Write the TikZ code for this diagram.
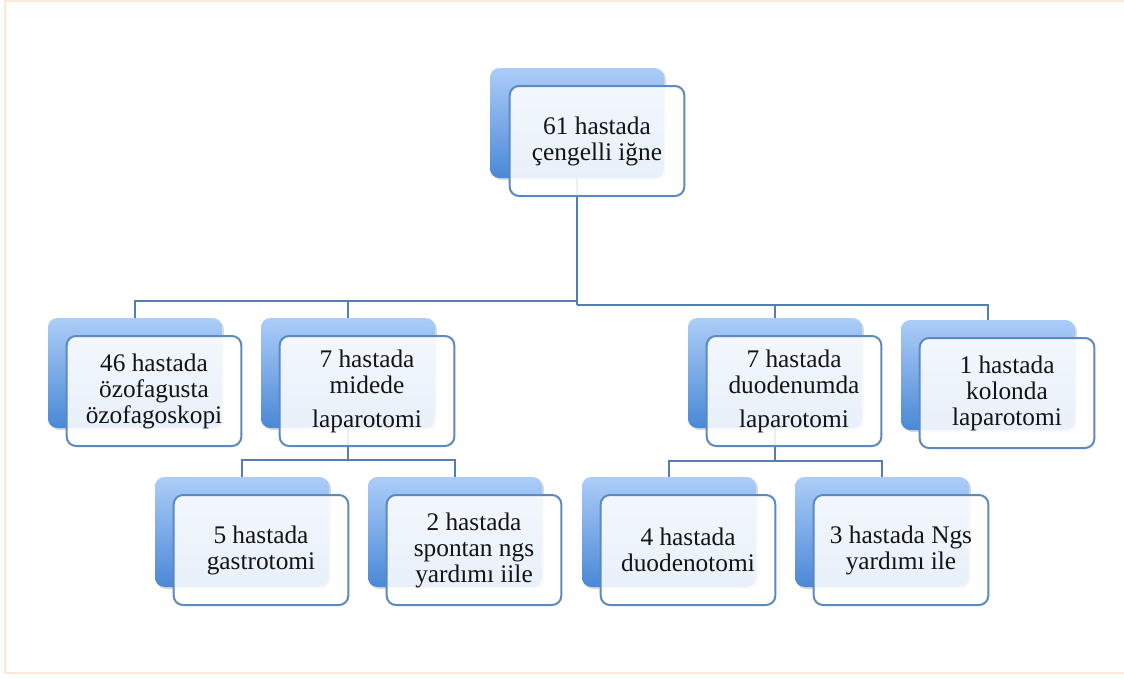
\documentclass[tikz,border=0pt]{standalone}
\usepackage{fontspec}
\setmainfont{Liberation Serif}
\usetikzlibrary{positioning,shadows}
\definecolor{backtop}{RGB}{172,205,248}
\definecolor{backbot}{RGB}{74,136,214}
\definecolor{edgeblue}{RGB}{92,138,192}
\definecolor{linkblue}{RGB}{84,126,178}
\definecolor{framepeach}{RGB}{252,232,214}
\tikzset{
  backbox/.style={rounded corners=7pt, minimum width=130.5pt, minimum height=82.5pt,
    top color=backtop, bottom color=backbot, draw=none,
    drop shadow={opacity=0.3, shadow xshift=1.5pt, shadow yshift=-1.5pt}},
  frontbox/.style={rounded corners=7pt, minimum width=131pt, minimum height=82.5pt,
    draw=edgeblue, line width=1.5pt, fill=white, fill opacity=0.88, text opacity=1,
    align=center, text=black!92, font=\fontsize{19}{19.5}\selectfont},
  conn/.style={draw=linkblue, line width=1.9pt}
}
\begin{document}
\begin{tikzpicture}[x=0.75pt, y=-0.75pt]
\useasboundingbox (0,0) rectangle (1124,678);
\draw[framepeach, line width=1.2pt] (1124,1)--(5,1)--(5,673)--(1124,673);

\node[backbox] (rootb) at (577,123) {};
\node[backbox] (Ab) at (135,373) {};
\node[backbox] (Bb) at (348,373) {};
\node[backbox] (Cb) at (775,373) {};
\node[backbox] (Db) at (988,375) {};
\node[backbox] (Eb) at (242,532) {};
\node[backbox] (Fb) at (455,532) {};
\node[backbox] (Gb) at (669,532) {};
\node[backbox] (Hb) at (882,532) {};

\coordinate (busL) at (577,301);
\coordinate (busR) at (577,305);
\coordinate (busB) at (348,460);
\coordinate (busC) at (775,461);
\draw[conn] (rootb.south) -- (busR);
\draw[conn] (busL) -| (Ab.north);
\draw[conn] (busL) -| (Bb.north);
\draw[conn] (busR) -| (Cb.north);
\draw[conn] (busR) -| (Db.north);
\draw[conn] (Bb.south) -- (busB);
\draw[conn] (busB) -| (Eb.north);
\draw[conn] (busB) -| (Fb.north);
\draw[conn] (Cb.south) -- (busC);
\draw[conn] (busC) -| (Gb.north);
\draw[conn] (busC) -| (Hb.north);

\node[frontbox] (root) at ([shift={(20,18)}]rootb) {61 hastada\\çengelli iğne};
\node[frontbox] (A) at ([shift={(19,18)}]Ab) {46 hastada\\özofagusta\\özofagoskopi};
\node[frontbox] (B) at ([shift={(19,18)}]Bb) {7 hastada\\midede\\[6pt]laparotomi};
\node[frontbox] (C) at ([shift={(19,18)}]Cb) {7 hastada\\duodenumda\\[6pt]laparotomi};
\node[frontbox] (D) at ([shift={(19,18)}]Db) {1 hastada\\kolonda\\laparotomi};
\node[frontbox] (E) at ([shift={(19,18)}]Eb) {5 hastada\\gastrotomi};
\node[frontbox] (F) at ([shift={(19,18)}]Fb) {2 hastada\\spontan ngs\\yardımı iile};
\node[frontbox] (G) at ([shift={(19,18)}]Gb) {4 hastada\\duodenotomi};
\node[frontbox] (H) at ([shift={(19,18)}]Hb) {3 hastada Ngs\\yardımı ile};
\end{tikzpicture}
\end{document}
